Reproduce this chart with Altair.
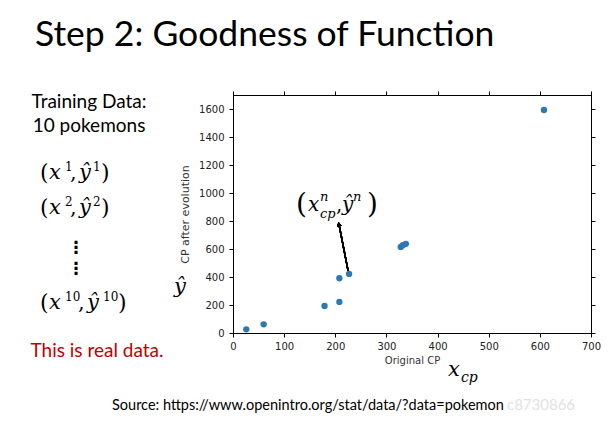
import altair as alt
import pandas as pd

# ---- data ----
original_cp = [26, 60, 179, 208, 208, 227, 328, 332, 338, 608]
cp_after_evolution = [26, 62, 193, 222, 391, 422, 615, 627, 637, 1593]
x_ticks = [0, 100, 200, 300, 400, 500, 600, 700]
y_ticks = [0, 200, 400, 600, 800, 1000, 1200, 1400, 1600]

title_text = "Step 2: Goodness of Function"
left_lines = ["Training Data:", "10 pokemons"]
pair_sups = ["1", "2", "10"]
real_text = "This is real data."
source_text = "Source: https://www.openintro.org/stat/data/?data=pokemon"
watermark_text = "c8730866"

df = pd.DataFrame({"cp": original_cp, "evo": cp_after_evolution})

W, H = 358, 238
xs = alt.Scale(domain=[0, 700], nice=False, zero=False)
ys = alt.Scale(domain=[0, 1700], nice=False, zero=False)

axis_common = dict(
    tickSize=4, tickColor="black", domainColor="black", labelColor="#222",
    labelFont="DejaVu Sans", labelFontSize=10, titleFont="DejaVu Sans",
    titleFontWeight="normal", titleColor="#333",
    grid=False, labelFlush=False, format="d",
)

points = alt.Chart(df).mark_circle(size=40, color="#2b78b5", opacity=1).encode(
    x=alt.X("cp:Q", scale=xs, axis=alt.Axis(values=x_ticks, title="Original CP",
                                              labelPadding=4, titlePadding=4,
                                              titleFontSize=10, **axis_common)),
    y=alt.Y("evo:Q", scale=ys, axis=alt.Axis(values=y_ticks, title="CP after evolution",
                                               labelPadding=5, titlePadding=8,
                                               titleFontSize=11, **axis_common)),
)

frame = alt.Chart(df).mark_point(opacity=0).encode(
    x=alt.X("cp:Q", scale=xs, axis=alt.Axis(orient="top", values=x_ticks, labels=False,
                                              title=None, tickSize=4, tickColor="black",
                                              domainColor="black", grid=False)),
    y=alt.Y("evo:Q", scale=ys, axis=alt.Axis(orient="right", values=y_ticks, labels=False,
                                               title=None, tickSize=4, tickColor="black",
                                               domainColor="black", grid=False)),
)

# arrow from a data point to the label
arrow = alt.Chart(df).mark_rule(color="black", strokeWidth=1.4).encode(
    x=alt.datum(225, scale=xs, axis=None), y=alt.datum(445, scale=ys, axis=None),
    x2=alt.datum(207.5), y2=alt.datum(770),
)
arrow_head = alt.Chart(df).mark_point(shape="triangle-up", filled=True, color="black",
                                      size=22, angle=349, opacity=1).encode(
    x=alt.datum(207, scale=xs, axis=None), y=alt.datum(778, scale=ys, axis=None),
)


def txt(s, x, y, size, font="Lato", color="black", align="left", style="normal",
        baseline="alphabetic", weight="normal", angle=0):
    return alt.Chart(pd.DataFrame({"t": [s]})).mark_text(
        font=font, fontSize=size, color=color, align=align, fontStyle=style,
        baseline=baseline, fontWeight=weight, angle=angle,
    ).encode(text="t:N", x=alt.value(x), y=alt.value(y))


MATH = "DejaVu Serif"


def pair(sup, base, xpos):
    """(x^sup, y-hat^sup) built from pieces; xpos = left edges of the 7 pieces."""
    return [
        txt("(", xpos[0], base + 1, 22, font=MATH),
        txt("x", xpos[1], base, 21, font=MATH, style="italic"),
        txt(sup, xpos[2], base - 8, 12, font=MATH),
        txt(",", xpos[3], base, 21, font=MATH),
        txt("ŷ", xpos[4], base, 21, font=MATH, style="italic"),
        txt(sup, xpos[5], base - 8, 12, font=MATH),
        txt(")", xpos[6], base + 1, 22, font=MATH),
    ]


texts = [
    txt(title_text, -198, -49, 35.5),
    txt(left_lines[0], -144, 13, 19, align="center"),
    txt(left_lines[1], -144, 37, 19, align="center"),
    *pair(pair_sups[0], 84, [-193, -184, -168, -163, -154, -140, -132]),
    *pair(pair_sups[1], 119, [-193, -184, -168, -163, -154, -140, -132]),
    txt("⋮", -157, 153, 17, font="DejaVu Sans", align="center", baseline="middle", weight="bold"),
    txt("⋮", -157, 174, 17, font="DejaVu Sans", align="center", baseline="middle", weight="bold"),
    *pair(pair_sups[2], 214, [-193, -184, -168, -155, -146, -130, -115]),
    txt(real_text, -136, 262, 19, color="#c00000", align="center"),
    txt(source_text, -121, 315, 14.5),
    txt(watermark_text, 274, 315, 15, color="#e2e2e2"),
    # y-hat next to y axis
    txt("ŷ", -53, 198, 21, font=MATH, style="italic", align="center"),
    # x_cp under x axis
    txt("x", 215, 281, 21, font=MATH, style="italic"),
    txt("cp", 228, 287, 14, font=MATH, style="italic"),
    # (x_cp^n, y-hat^n) annotation
    txt("(", 63, 118, 28, font=MATH),
    txt("x", 75, 116, 20, font=MATH, style="italic"),
    txt("n", 87, 106, 13, font=MATH, style="italic"),
    txt("cp", 87, 123, 13, font=MATH, style="italic"),
    txt(",", 103, 116, 20, font=MATH),
    txt("ŷ", 109, 116, 20, font=MATH, style="italic"),
    txt("n", 120, 106, 13, font=MATH, style="italic"),
    txt(")", 134, 118, 28, font=MATH),
]

chart = alt.layer(points, frame, arrow, arrow_head, *texts).resolve_axis(
    x="independent", y="independent"
).properties(
    width=W, height=H,
    autosize=alt.AutoSizeParams(type="none"),
    padding={"left": 225, "top": 87, "right": 11, "bottom": 95},
    background="white",
).configure_view(stroke="black", strokeWidth=1)

chart.save("out.html", embed_options={"renderer": "svg", "actions": False})
